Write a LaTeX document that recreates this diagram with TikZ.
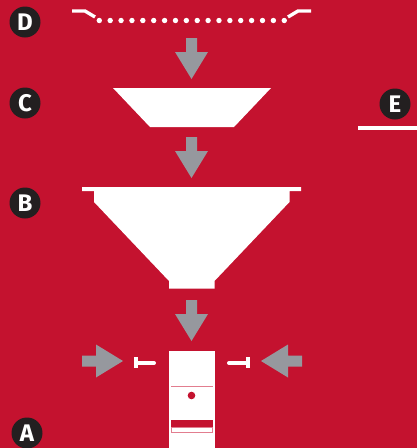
\documentclass[tikz,border=0pt]{standalone}
\usepackage{fontspec}
\setsansfont{Fira Sans}
\definecolor{bgred}{HTML}{C4122F}
\definecolor{arrowgrey}{HTML}{96989E}
\definecolor{badgeblack}{HTML}{231F20}
\definecolor{linepink}{HTML}{E27D8F}
\tikzset{
    badge/.style={circle, fill=badgeblack, text=white, inner sep=0pt,
    	minimum size=31pt, font=\sffamily\bfseries\fontsize{24}{24}\selectfont},
    part/.style={fill=white},
    pics/bigarrow/.style={code={
    	\fill[arrowgrey] (-5.5,-41) -- (5.5,-41) -- (5.5,-27) -- (16.5,-27)
    		-- (0,0) -- (-16.5,-27) -- (-5.5,-27) -- cycle;
    }}
}

\begin{document}
\begin{tikzpicture}[x=1pt, y=-1pt]
	\fill[bgred] (0,0) rectangle (417,448);
	\useasboundingbox (0,0) rectangle (417,448);

	\node (D) [badge] at (25,22) {D};
	\node (C) [badge] at (25,103) {C};
	\node (B) [badge] at (25,203) {B};
	\node (A) [badge] at (27,433) {A};
	\node (E) [badge] at (395,104) {E};

	% sieve
	\draw[white, line width=3.4pt] (72,11) -- (85,11) -- (95,17);
	\draw[white, line width=3.4pt] (288,17) -- (298,11) -- (311,11);
	\foreach \i in {0,...,17}
		\fill[white] (99.3+\i*10.88,20.5) circle (2.7);

	\fill[part] (113,88) -- (271,88) -- (234,127) -- (150,127) -- cycle;

	% funnel
	\fill[part] (82,187) -- (301,187) -- (301,191) -- (289.5,191) -- (289.5,202)
		-- (214.5,281) -- (214.5,288.5) -- (169,288.5) -- (169,281) -- (94,202)
		-- (94,191) -- (82,191) -- cycle;

	\fill[white] (358,126) rectangle (417,129.5);

	\pic at (191.5,79) {bigarrow};
	\pic at (191.5,178) {bigarrow};
	\pic at (191.5,341) {bigarrow};
	\pic[rotate=90] at (123,361) {bigarrow};
	\pic[rotate=-90] at (261,361) {bigarrow};

	% clamps
	\fill[white] (133.5,357) rectangle (137.5,368);
	\draw[white, line width=4pt, line cap=round] (137,363) -- (154,363);
	\fill[white] (246,357) rectangle (249.5,368);
	\draw[white, line width=4pt, line cap=round] (229,363) -- (246,363);

	% block
	\fill[white] (169,351) rectangle (215,448);
	\draw[linepink, line width=1.2pt] (171,386.5) -- (213,386.5);
	\fill[bgred] (191.5,395.5) circle (3.8);
	\fill[bgred] (171,420) rectangle (213,427);
	\draw[linepink, line width=1pt] (171.5,427) rectangle (212.5,432.5);
\end{tikzpicture}
\end{document}
